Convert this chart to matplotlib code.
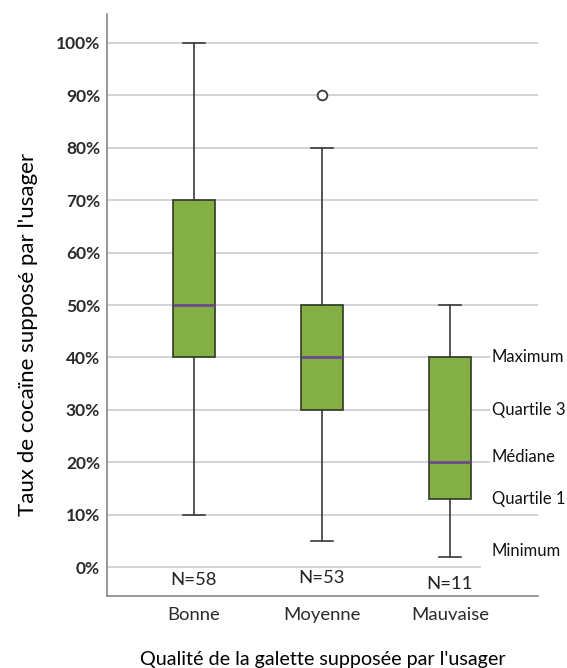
import numpy as np
import matplotlib
matplotlib.use("Agg")
import matplotlib.pyplot as plt
from matplotlib.ticker import PercentFormatter

plt.rcParams['font.family'] = ['Lato', 'DejaVu Sans']

# données des boîtes (en %)
categories = ["Bonne", "Moyenne", "Mauvaise"]
effectifs = [58, 53, 11]
minimum = [10, 5, 2]
quartile1 = [40, 30, 13]
mediane = [50, 40, 20]
quartile3 = [70, 50, 40]
maximum = [100, 80, 50]
aberrants = [[], [90], []]

# légende manuelle à droite
legende = ["Maximum", "Quartile 3", "Médiane", "Quartile 1", "Minimum"]
legende_y = [40, 30, 21, 13, 3]
n_decalage = [-2.5, -2.1, -3.2]

stats = []
for i, cat in enumerate(categories):
    stats.append({
        "label": cat,
        "whislo": minimum[i],
        "q1": quartile1[i],
        "med": mediane[i],
        "q3": quartile3[i],
        "whishi": maximum[i],
        "fliers": aberrants[i],
    })

fig = plt.figure(figsize=(5.67, 6.68), dpi=100)
ax = fig.add_axes([0.1887, 0.1078, 0.7602, 0.8712])

ax.bxp(stats, positions=[1, 2, 3], widths=0.33, patch_artist=True,
       boxprops=dict(facecolor="#84af45", edgecolor="#2f3a24", linewidth=1.2),
       medianprops=dict(color="#6b4a8c", linewidth=2),
       whiskerprops=dict(color="#3a3a3a", linewidth=1.2),
       capprops=dict(color="#3a3a3a", linewidth=1.2),
       capwidths=0.17,
       flierprops=dict(marker="o", markersize=7, markerfacecolor="white",
                       markeredgecolor="#3a3a3a", markeredgewidth=1.3),
       zorder=3)

ax.set_xlim(0.32, 3.69)
ax.set_ylim(-5.5, 105.5)
ax.set_yticks(np.arange(0, 101, 10))
ax.yaxis.set_major_formatter(PercentFormatter(decimals=0))
ax.grid(axis="y", color="#cccccc", linewidth=1.2, zorder=0)
ax.set_axisbelow(True)

for s in ["top", "right"]:
    ax.spines[s].set_visible(False)
ax.spines["left"].set_color("#888888")
ax.spines["bottom"].set_color("#888888")
ax.spines["left"].set_linewidth(1.2)
ax.spines["bottom"].set_linewidth(1.2)

ax.tick_params(axis="both", length=0)
ax.tick_params(axis="y", pad=5, labelsize=12.5, labelcolor="#2a2a2a")
ax.tick_params(axis="x", pad=8, labelsize=13.3, labelcolor="#2a2a2a")
for lab in ax.get_yticklabels():
    lab.set_fontweight("bold")

for i, n in enumerate(effectifs):
    ax.text(i + 1, n_decalage[i], f"N={n}", ha="center", va="center",
            fontsize=13.3, color="#222222")

for txt, y in zip(legende, legende_y):
    pad = 8 if txt == "Minimum" else 1.5
    ax.text(3.33, y, txt, ha="left", va="center", fontsize=12, color="#111111",
            bbox=dict(facecolor="white", edgecolor="none", pad=pad), zorder=5)

ax.set_ylabel("Taux de cocaïne supposé par l'usager", fontsize=16)
ax.yaxis.set_label_coords(-0.16, 0.45)
ax.set_xlabel("Qualité de la galette supposée par l'usager", fontsize=14.2,
              labelpad=20)

fig.savefig("out.png", dpi=100)
